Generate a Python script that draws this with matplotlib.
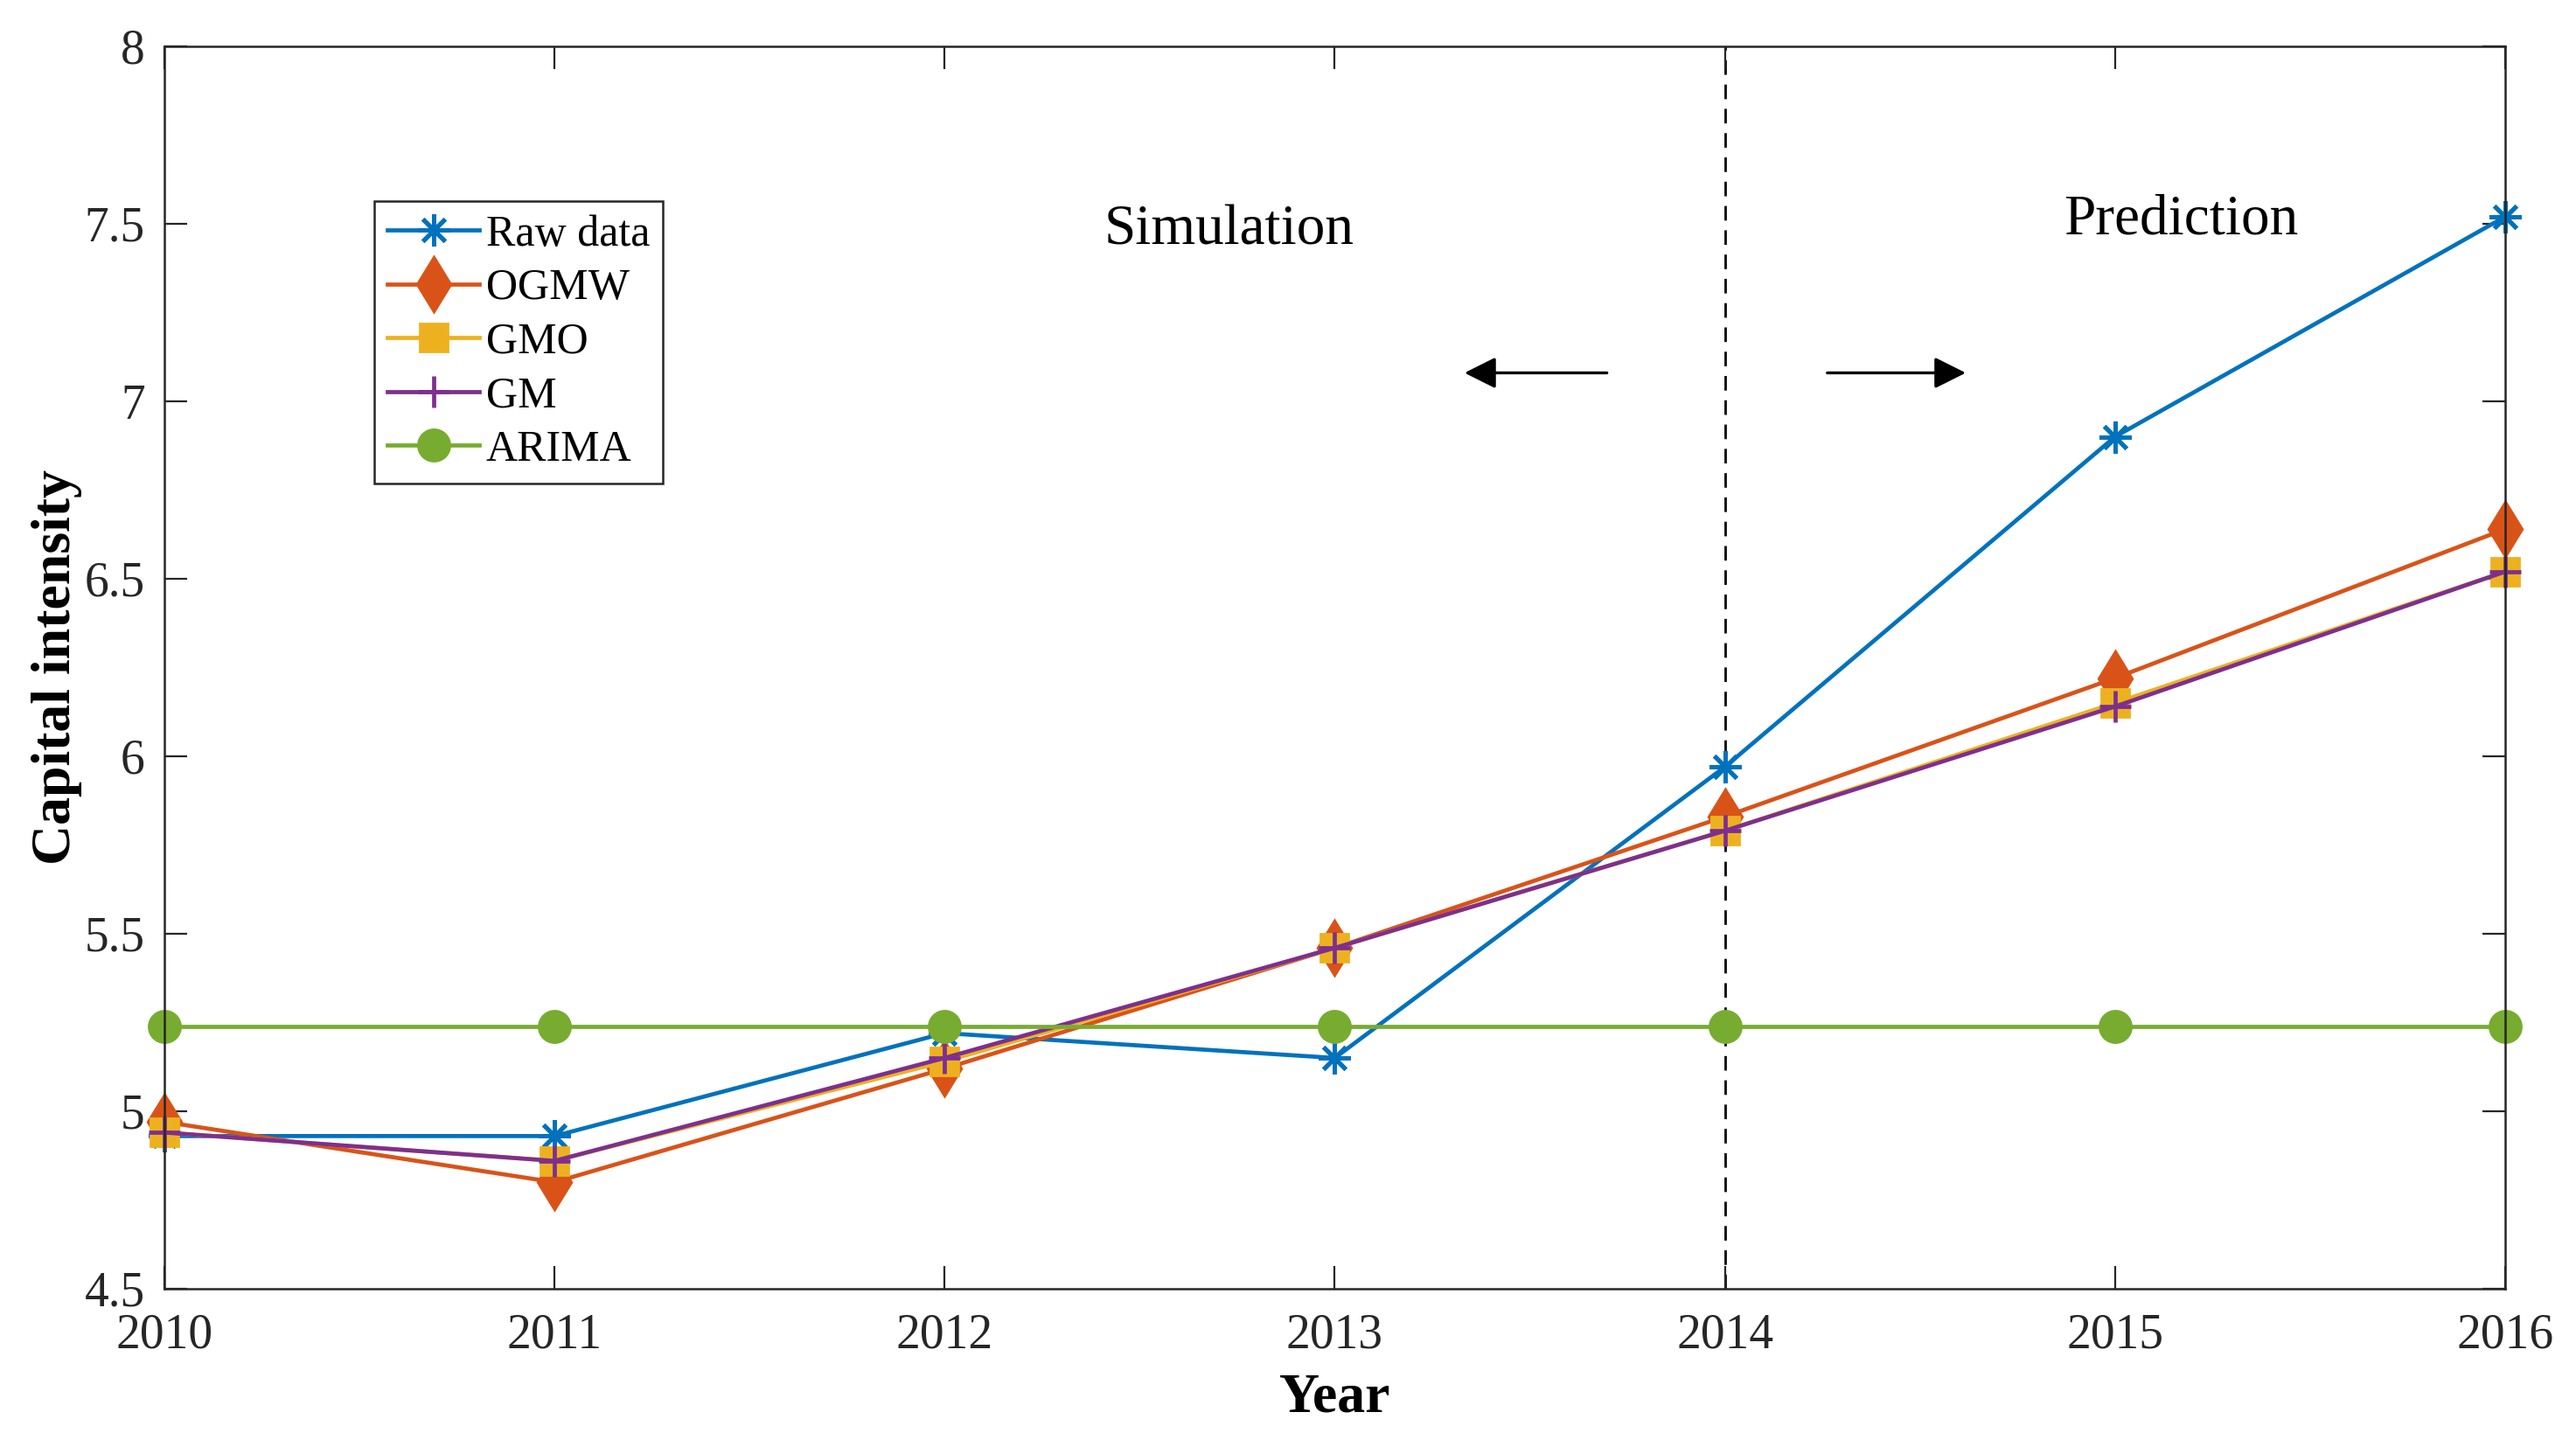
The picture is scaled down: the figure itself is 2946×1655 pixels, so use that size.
import numpy as np
import matplotlib
matplotlib.use("Agg")
import matplotlib.pyplot as plt

# data
years = [2010, 2011, 2012, 2013, 2014, 2015, 2016]
raw_data = [4.93, 4.93, 5.22, 5.15, 5.97, 6.90, 7.52]
ogmw = [4.97, 4.80, 5.12, 5.46, 5.83, 6.22, 6.64]
gmo = [4.94, 4.86, 5.14, 5.46, 5.79, 6.15, 6.52]
gm = [4.94, 4.86, 5.15, 5.46, 5.79, 6.14, 6.52]
arima = [5.24, 5.24, 5.24, 5.24, 5.24, 5.24, 5.24]

plt.rcParams['font.family'] = ['Liberation Serif', 'DejaVu Serif']

fig = plt.figure(figsize=(14.73, 8.275), dpi=200)
ax = fig.add_axes([0.0638, 0.1094, 0.9087, 0.8586])

lw = 1.7
ax.plot(years, raw_data, color="#0072BD", lw=lw, marker=(8, 2, 0), ms=13, mew=1.8,
        clip_on=False, label="Raw data")
ax.plot(years, ogmw, color="#D95319", lw=lw, marker="d", ms=16, mew=1.2,
        clip_on=False, label="OGMW")
ax.plot(years, gmo, color="#EDB120", lw=lw, marker="s", ms=11.5,
        clip_on=False, label="GMO")
ax.plot(years, gm, color="#7E2F8E", lw=lw, marker="+", ms=13, mew=1.7,
        clip_on=False, label="GM")
ax.plot(years, arima, color="#77AC30", lw=lw, marker="o", ms=13,
        clip_on=False, label="ARIMA")

# split between simulation and prediction
ax.axvline(2014, color="black", lw=1.0, ls=(0, (6, 4)), zorder=1)

ax.text(2012.73, 7.48, "Simulation", fontsize=23.5, ha="center", va="center")
ax.text(2015.17, 7.51, "Prediction", fontsize=23.5, ha="center", va="center")
astyle = "-|>,head_length=0.5,head_width=0.25"
ax.annotate("", xy=(2013.32, 7.08), xytext=(2013.71, 7.08),
            arrowprops=dict(arrowstyle=astyle, color="black", lw=1.2, mutation_scale=22))
ax.annotate("", xy=(2014.63, 7.08), xytext=(2014.25, 7.08),
            arrowprops=dict(arrowstyle=astyle, color="black", lw=1.2, mutation_scale=22))

ax.set_xlim(2010, 2016)
ax.set_ylim(4.5, 8)
ax.set_xticks(years)
ax.set_xticklabels([str(y) for y in years])
yt = np.arange(4.5, 8.01, 0.5)
ax.set_yticks(yt)
ax.set_yticklabels(["4.5", "5", "5.5", "6", "6.5", "7", "7.5", "8"])

ax.tick_params(direction="in", length=9.5, width=0.8, colors="#262626", labelsize=20,
               top=True, right=True)
ax.tick_params(axis="x", pad=10)
ax.tick_params(axis="y", pad=8)
for s in ax.spines.values():
    s.set_color("#262626")
    s.set_linewidth(0.9)

ax.set_xlabel("Year", fontsize=23, fontweight="bold", labelpad=6)
ax.set_ylabel("Capital intensity", fontsize=23, fontweight="bold", labelpad=1)

leg = ax.legend(loc="upper left", bbox_to_anchor=(0.0897, 0.8754), borderaxespad=0,
                fontsize=18, fancybox=False, edgecolor="#262626", framealpha=1,
                handlelength=2.1, handletextpad=0.15, labelspacing=0.3, borderpad=0.3)
leg.get_frame().set_linewidth(0.9)

fig.savefig("out.png", dpi=200)
